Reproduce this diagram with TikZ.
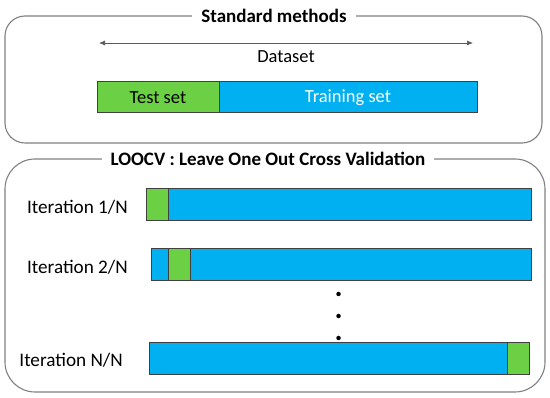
\documentclass[tikz,border=0pt]{standalone}
\usepackage{fontspec}
\setmainfont{Carlito}
\usetikzlibrary{positioning,arrows.meta}
\definecolor{cgreen}{HTML}{6BD043}
\definecolor{cblue}{HTML}{00B0F0}
\definecolor{cframe}{HTML}{808080}
\tikzset{
  frame/.style={draw=cframe, line width=1.1pt, rounded corners=20pt},
  ttl/.style={fill=white, inner xsep=9pt, inner ysep=1pt, font=\fontsize{19}{21}\selectfont\bfseries},
  lbl/.style={anchor=east, inner sep=0pt, font=\fontsize{19.2}{21}\selectfont},
  seg/.style={draw=black!75, line width=1pt, minimum height=32pt, inner sep=0pt, outer sep=0pt, font=\fontsize{18.5}{20}\selectfont},
  testseg/.style={seg, fill=cgreen},
  trainseg/.style={seg, fill=cblue, text=white},
  span/.style={{Latex[length=6pt,width=5pt]}-{Latex[length=6pt,width=5pt]}, draw=black!65, line width=0.7pt},
  vdot/.style={circle, fill=black, inner sep=0pt, minimum size=4.5pt},
}
\begin{document}
\begin{tikzpicture}[x=1pt, y=-1pt]
    \useasboundingbox (0,0) rectangle (550,398);
    % standard split
    \draw[frame] (5,16) rectangle (542,143);
    \node[ttl] (std) at (274,16) {Standard methods};
    \coordinate (dsL) at (99,43);
    \coordinate (dsR) at (473,43);
    \draw[span] (dsL) -- (dsR);
    \node[font=\fontsize{18.5}{20}\selectfont] (ds) at (286,57) {Dataset};
    \node[testseg, anchor=west, minimum width=122pt, minimum height=31pt] (test) at (97,97.5) {Test set};
    \node[trainseg, minimum width=258pt, minimum height=31pt, right=0pt of test] (train) {Training set};
    % LOOCV
    \draw[frame, rounded corners=30pt] (5,159) rectangle (545,392);
    \node[ttl] (loo) at (268,159) {LOOCV : Leave One Out Cross Validation};
    \node[testseg, anchor=west, minimum width=22pt] (a1) at (146,205) {};
    \node[trainseg, minimum width=363pt, right=0pt of a1] (b1) {};
    \node[lbl] (it1) at (128,207) {Iteration 1/N};
    \node[trainseg, anchor=west, minimum width=16.5pt] (a2) at (151.5,265) {};
    \node[testseg, minimum width=22pt, right=0pt of a2] (b2) {};
    \node[trainseg, minimum width=341pt, right=0pt of b2] (c2) {};
    \node[lbl] (it2) at (128,267) {Iteration 2/N};
    \foreach \y [count=\i] in {294,316,338}
      \node[vdot] (d\i) at (338.5,\y) {};
    \node[trainseg, anchor=west, minimum width=358pt] (an) at (149,358.5) {};
    \node[testseg, minimum width=22pt, right=0pt of an] (bn) {};
    \node[lbl] (itn) at (123,360.5) {Iteration N/N};
\end{tikzpicture}
\end{document}
